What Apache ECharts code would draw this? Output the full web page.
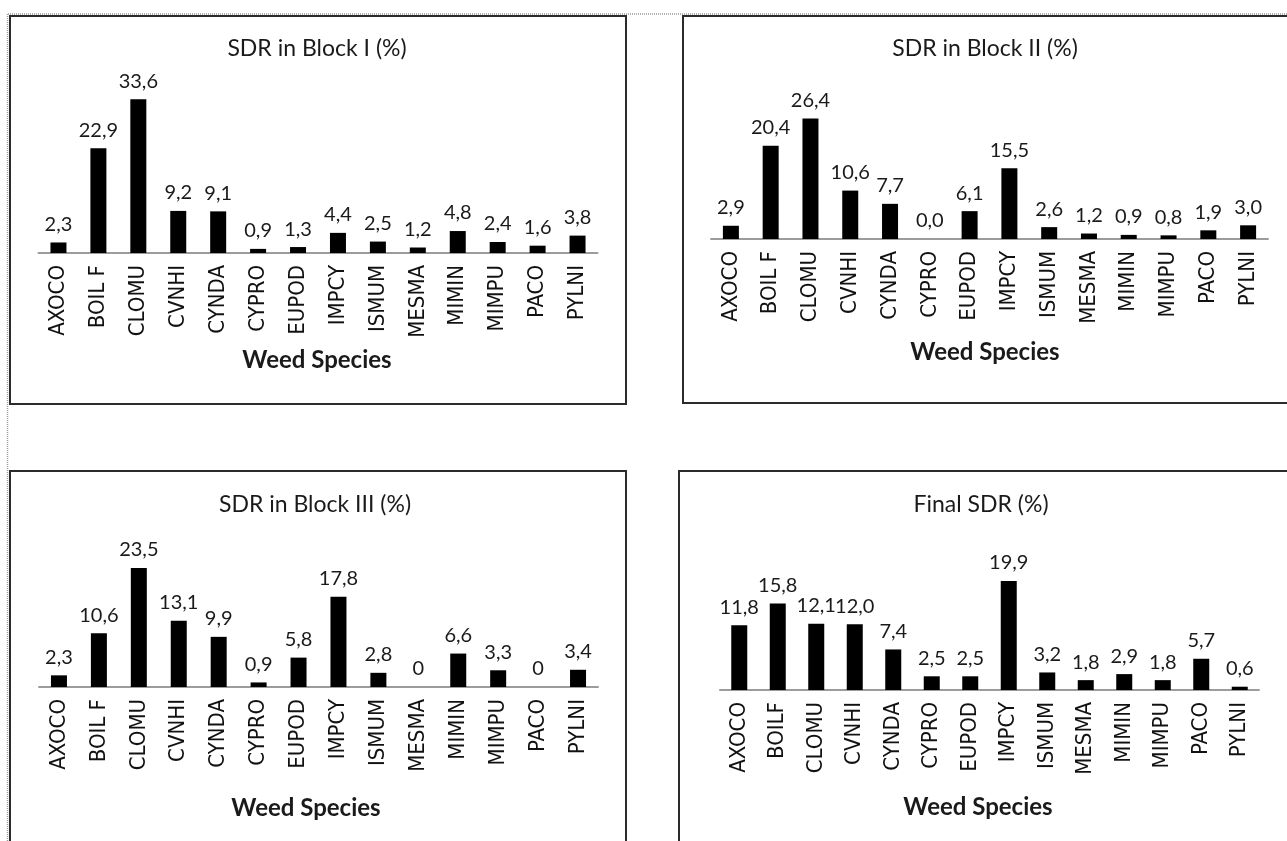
<!DOCTYPE html>
<html>
<head>
<meta charset="utf-8">
<title>SDR by weed species</title>
<script src="https://cdn.jsdelivr.net/npm/echarts@6/dist/echarts.min.js"></script>
<style>
  html, body { margin: 0; padding: 0; background: #ffffff; }
  #chart { width: 1287px; height: 841px; }
</style>
</head>
<body>
<div id="chart"></div>
<script>
// weed species codes (final panel writes BOILF without the space)
const categories = ['AXOCO', 'BOIL F', 'CLOMU', 'CVNHI', 'CYNDA', 'CYPRO', 'EUPOD', 'IMPCY', 'ISMUM', 'MESMA', 'MIMIN', 'MIMPU', 'PACO', 'PYLNI']
const categoriesFinal = ['AXOCO', 'BOILF', 'CLOMU', 'CVNHI', 'CYNDA', 'CYPRO', 'EUPOD', 'IMPCY', 'ISMUM', 'MESMA', 'MIMIN', 'MIMPU', 'PACO', 'PYLNI']

const block1 = [2.3, 22.9, 33.6, 9.2, 9.1, 0.9, 1.3, 4.4, 2.5, 1.2, 4.8, 2.4, 1.6, 3.8]
const block2 = [2.9, 20.4, 26.4, 10.6, 7.7, 0.0, 6.1, 15.5, 2.6, 1.2, 0.9, 0.8, 1.9, 3.0]
const block3 = [2.3, 10.6, 23.5, 13.1, 9.9, 0.9, 5.8, 17.8, 2.8, 0, 6.6, 3.3, 0, 3.4]
const finalSdr = [11.8, 15.8, 12.1, 12.0, 7.4, 2.5, 2.5, 19.9, 3.2, 1.8, 2.9, 1.8, 5.7, 0.6]

const titles = ['SDR in Block I (%)', 'SDR in Block II (%)', 'SDR in Block III (%)', 'Final SDR (%)']
const axisTitle = 'Weed Species'

const panels = [
  { data: block1, cats: categories, yMax: 40, grid: { left: 38.5, top: 70, width: 559, height: 183 }, titleAt: [317, 49], nameAt: [317, 360], box: [10, 16, 616, 388], plainZero: false },
  { data: block2, cats: categories, yMax: 30, grid: { left: 711, top: 102, width: 557, height: 137 }, titleAt: [985, 49], nameAt: [985, 352], box: [683, 16, 640, 387], plainZero: false },
  { data: block3, cats: categories, yMax: 30, grid: { left: 39, top: 535, width: 559, height: 152 }, titleAt: [315, 505], nameAt: [306, 808], box: [10, 471, 616, 400], plainZero: true },
  { data: finalSdr, cats: categoriesFinal, yMax: 25, grid: { left: 720, top: 553, width: 539, height: 137 }, titleAt: [981, 505], nameAt: [978, 807], box: [679, 471, 640, 400], plainZero: false }
]

const labelFont = "'Liberation Sans Narrow', 'DejaVu Sans Condensed', 'Arial Narrow', 'Liberation Sans', sans-serif"
const textFont = "Lato, 'Open Sans', sans-serif"

function fmt(v, plainZero) {
  if (v === 0 && plainZero) return '0'
  return v.toFixed(1).replace('.', ',')
}

function textEl(x, y, text, font) {
  return {
    type: 'text',
    x: x,
    y: y,
    silent: true,
    style: {
      text: text,
      font: font,
      fill: '#1a1a1a',
      align: 'center',
      verticalAlign: 'middle',
      textAlign: 'center',
      textVerticalAlign: 'middle'
    }
  }
}

const graphics = [
  // dotted frame of the page
  { type: 'line', silent: true, shape: { x1: 8, y1: 14, x2: 1287, y2: 14 }, style: { stroke: '#9a9a9a', lineWidth: 1.5, lineDash: [1, 1] } },
  { type: 'line', silent: true, shape: { x1: 7.5, y1: 14, x2: 7.5, y2: 841 }, style: { stroke: '#9a9a9a', lineWidth: 1.5, lineDash: [1, 1] } }
]

panels.forEach((p, i) => {
  graphics.push({
    type: 'rect',
    silent: true,
    shape: { x: p.box[0], y: p.box[1], width: p.box[2], height: p.box[3] },
    style: { fill: 'none', stroke: '#2b2b2b', lineWidth: 2 }
  })
  graphics.push(textEl(p.titleAt[0], p.titleAt[1], titles[i], '23px ' + textFont))
  graphics.push(textEl(p.nameAt[0], p.nameAt[1], axisTitle, 'bold 24px ' + textFont))
})

const chart = echarts.init(document.getElementById('chart'))
chart.setOption({
  backgroundColor: '#ffffff',
  animation: false,
  grid: panels.map(p => Object.assign({ containLabel: false }, p.grid)),
  xAxis: panels.map((p, i) => ({
    type: 'category',
    gridIndex: i,
    data: p.cats,
    axisLine: {
      lineStyle: {
        color: '#9c9c9c',
        width: 2
      }
    },
    axisTick: {
      show: false
    },
    axisLabel: {
      rotate: 90,
      margin: 12,
      interval: 0,
      color: '#111111',
      fontFamily: labelFont,
      fontSize: 22
    }
  })),
  yAxis: panels.map((p, i) => ({
    type: 'value',
    gridIndex: i,
    min: 0,
    max: p.yMax,
    show: false,
    splitLine: {
      show: false
    }
  })),
  series: panels.map((p, i) => ({
    type: 'bar',
    xAxisIndex: i,
    yAxisIndex: i,
    data: p.data,
    barWidth: 16,
    itemStyle: {
      color: '#000000'
    },
    label: {
      show: true,
      position: 'top',
      distance: 8,
      color: '#1a1a1a',
      fontFamily: textFont,
      fontSize: 20,
      formatter: params => fmt(params.value, p.plainZero)
    }
  })),
  graphic: graphics
})
</script>
</body>
</html>
